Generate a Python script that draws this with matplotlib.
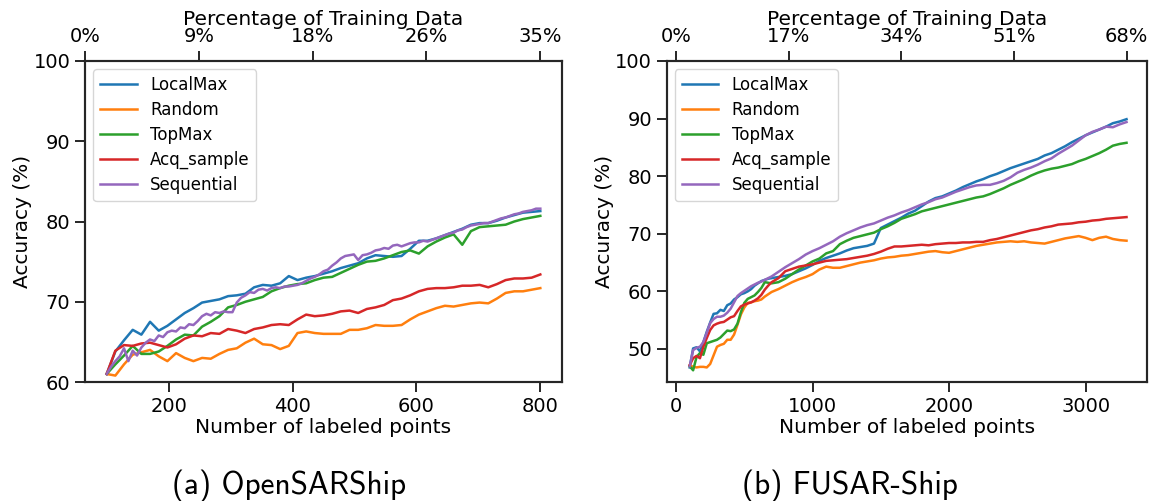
import numpy as np
import matplotlib
matplotlib.use("Agg")
import matplotlib.pyplot as plt

# ---------------- OpenSARShip ----------------
sar_x = np.arange(100, 801, 14)
sar_localmax = [61.0, 63.8, 65.2, 66.5, 65.9, 67.5, 66.4, 67.0, 67.8, 68.6,
                69.2, 69.9, 70.1, 70.3, 70.7, 70.8, 71.0, 71.8, 72.1, 72.0,
                72.3, 73.2, 72.7, 73.0, 73.2, 73.5, 73.8, 74.2, 74.5, 74.8,
                75.4, 75.8, 75.7, 75.6, 75.7, 76.6, 77.6, 77.6, 77.9, 78.3,
                78.7, 79.1, 79.6, 79.8, 79.8, 80.1, 80.5, 80.8, 81.1, 81.2,
                81.3]
sar_random = [61.0, 60.8, 62.2, 63.4, 63.7, 64.0, 63.2, 62.6, 63.6, 63.0,
              62.6, 63.0, 62.9, 63.5, 64.0, 64.2, 64.9, 65.4, 64.7, 64.6,
              64.1, 64.5, 66.1, 66.3, 66.1, 66.0, 66.0, 66.0, 66.5, 66.5,
              66.7, 67.1, 67.0, 67.0, 67.1, 67.8, 68.4, 68.8, 69.2, 69.5,
              69.4, 69.6, 69.8, 69.9, 69.8, 70.4, 71.1, 71.3, 71.3, 71.5,
              71.7]
sar_topmax = [61.0, 62.2, 63.3, 64.5, 63.5, 63.5, 63.8, 64.5, 65.3, 65.9,
              65.8, 66.9, 67.5, 68.2, 69.3, 69.6, 70.0, 70.3, 70.6, 71.3,
              71.7, 72.0, 72.2, 72.3, 72.7, 73.0, 73.1, 73.6, 74.1, 74.6,
              75.0, 75.1, 75.4, 75.8, 76.2, 76.4, 76.0, 76.9, 77.5, 78.0,
              78.4, 77.1, 78.8, 79.3, 79.4, 79.5, 79.6, 80.0, 80.3, 80.5,
              80.7]
sar_acq = [61.0, 63.9, 64.6, 64.5, 64.8, 64.9, 64.6, 64.3, 64.7, 65.4,
           65.8, 65.7, 66.1, 66.0, 66.6, 66.4, 66.1, 66.6, 66.8, 67.1,
           67.2, 67.1, 67.8, 68.4, 68.2, 68.3, 68.5, 68.8, 68.9, 68.6,
           69.1, 69.3, 69.6, 70.2, 70.4, 70.8, 71.3, 71.6, 71.7, 71.7,
           71.8, 72.0, 72.0, 72.1, 71.8, 72.2, 72.7, 72.9, 72.9, 73.0,
           73.4]
sar_seq_x = np.arange(100, 801, 7)
sar_sequential = [61.0, 61.9, 62.6, 63.2, 64.2, 62.6, 63.9, 63.3, 64.3, 64.9,
                  65.3, 65.1, 65.8, 65.6, 66.2, 66.4, 66.3, 66.8, 66.7, 67.2,
                  67.1, 67.6, 68.2, 68.5, 68.3, 68.7, 68.6, 68.8, 68.7, 68.7,
                  69.9, 70.5, 70.8, 71.2, 71.1, 71.5, 71.6, 71.4, 71.7, 71.8,
                  71.7, 71.9, 71.9, 72.0, 72.1, 72.3, 72.6, 72.9, 73.1, 73.4,
                  73.8, 74.0, 74.5, 74.9, 75.4, 75.7, 75.8, 75.9, 75.2, 75.8,
                  75.9, 76.1, 76.4, 76.5, 76.7, 76.6, 77.0, 77.1, 76.9, 77.1,
                  77.3, 77.4, 77.4, 77.6, 77.5, 77.7, 77.9, 78.1, 78.3, 78.5,
                  78.6, 78.9, 79.0, 79.3, 79.5, 79.6, 79.7, 79.8, 79.8, 80.0,
                  80.2, 80.4, 80.5, 80.7, 80.9, 81.0, 81.2, 81.3, 81.4, 81.6,
                  81.6]

# ---------------- FUSAR-Ship ----------------
# 25-point spacing up to 675, then every 50 up to 3300
fus_x = np.r_[np.arange(100, 700, 25), np.arange(700, 3301, 50)]
fus_localmax = [46.8, 50.1, 50.3, 49.6, 51.2, 53.0, 54.6, 56.1, 56.2, 56.8,
                56.6, 57.6, 57.9, 58.6, 59.0, 59.5, 59.7, 60.0, 60.4, 61.0,
                61.4, 61.8, 62.0, 62.2,
                62.3, 62.5, 62.7, 63.0, 63.5, 64.0, 64.6, 65.3, 65.8, 66.2,
                66.6, 67.1, 67.5, 67.7, 67.9, 68.3, 71.0, 71.6, 72.2, 72.8,
                73.5, 74.0, 74.8, 75.6, 76.2, 76.5, 77.0, 77.5, 78.1, 78.6,
                79.1, 79.5, 80.0, 80.4, 80.9, 81.4, 81.8, 82.2, 82.6, 83.0,
                83.6, 84.0, 84.6, 85.2, 85.9, 86.5, 87.1, 87.6, 88.1, 88.6,
                89.2, 89.5, 89.9]
fus_random = [47.2, 46.9, 46.8, 46.9, 46.9, 46.8, 47.4, 48.9, 50.4, 50.7,
              50.9, 51.6, 51.6, 52.5, 54.2, 56.0, 57.2, 58.0, 58.1, 58.3,
              58.4, 58.6, 59.1, 59.5,
              59.9, 60.4, 61.0, 61.6, 62.1, 62.5, 63.0, 63.8, 64.3, 64.1,
              64.1, 64.4, 64.7, 65.0, 65.2, 65.4, 65.7, 65.9, 66.0, 66.2,
              66.3, 66.5, 66.7, 66.9, 67.0, 66.8, 66.7, 67.0, 67.3, 67.6,
              67.9, 68.1, 68.3, 68.5, 68.6, 68.7, 68.6, 68.7, 68.5, 68.4,
              68.3, 68.6, 68.9, 69.2, 69.4, 69.6, 69.3, 68.9, 69.3, 69.5,
              69.1, 68.9, 68.8]
fus_topmax = [47.0, 46.3, 48.6, 49.3, 49.0, 51.0, 51.2, 51.4, 51.6, 52.0,
              52.6, 53.2, 53.1, 53.4, 54.4, 56.4, 58.0, 58.7, 59.0, 59.3,
              59.9, 60.6, 61.6, 61.5,
              61.4, 61.6, 62.2, 63.0, 63.8, 64.5, 65.2, 65.7, 66.6, 67.0,
              68.2, 68.8, 69.3, 69.6, 69.9, 70.2, 70.8, 71.3, 71.9, 72.6,
              73.0, 73.4, 73.9, 74.2, 74.5, 74.8, 75.1, 75.4, 75.7, 76.0,
              76.3, 76.5, 76.9, 77.4, 77.9, 78.5, 79.0, 79.5, 80.1, 80.6,
              81.0, 81.3, 81.5, 81.8, 82.1, 82.6, 83.0, 83.5, 84.0, 84.6,
              85.3, 85.6, 85.8]
fus_acq = [47.2, 48.4, 48.8, 48.4, 50.4, 51.9, 53.3, 54.1, 54.4, 54.6,
           54.7, 55.1, 55.5, 55.7, 56.6, 57.4, 57.7, 57.9, 58.1, 58.4,
           58.8, 59.4, 60.3, 61.0,
           61.6, 62.3, 63.5, 63.9, 64.3, 64.5, 64.7, 65.0, 65.3, 65.4,
           65.5, 65.6, 65.8, 66.0, 66.2, 66.5, 66.9, 67.4, 67.8, 67.8,
           67.9, 68.0, 68.1, 68.0, 68.2, 68.3, 68.4, 68.4, 68.5, 68.5,
           68.6, 68.6, 68.9, 69.1, 69.4, 69.7, 70.0, 70.3, 70.6, 70.8,
           71.1, 71.3, 71.6, 71.7, 71.8, 72.0, 72.1, 72.3, 72.4, 72.6,
           72.7, 72.8, 72.9]
fus_sequential = [47.0, 49.8, 50.2, 50.4, 51.2, 52.8, 54.5, 55.2, 55.6, 55.6,
                  55.8, 56.3, 57.0, 58.1, 59.2, 59.7, 60.1, 60.5, 60.9, 61.2,
                  61.5, 61.7, 62.0, 62.3,
                  62.6, 63.4, 64.2, 64.9, 65.6, 66.4, 67.0, 67.5, 68.1, 68.7,
                  69.5, 70.1, 70.6, 71.1, 71.5, 71.8, 72.3, 72.8, 73.2, 73.7,
                  74.1, 74.6, 75.1, 75.5, 76.0, 76.3, 76.8, 77.3, 77.7, 78.1,
                  78.4, 78.5, 78.5, 78.8, 79.2, 79.8, 80.6, 81.1, 81.5, 82.0,
                  82.6, 83.1, 83.9, 84.6, 85.3, 86.2, 87.1, 87.7, 88.1, 88.6,
                  88.5, 89.0, 89.4]

method_names = ["LocalMax", "Random", "TopMax", "Acq_sample", "Sequential"]
colors = ["#1f77b4", "#ff7f0e", "#2ca02c", "#d62728", "#9467bd"]

sar_pct_labels = ["0%", "9%", "18%", "26%", "35%"]
fus_pct_labels = ["0%", "17%", "34%", "51%", "68%"]

dark = "0.15"
plt.rcParams.update({
    "font.family": "DejaVu Sans",
    "axes.edgecolor": dark,
    "axes.linewidth": 1.5,
    "xtick.color": dark,
    "ytick.color": dark,
    "xtick.labelcolor": "black",
    "ytick.labelcolor": "black",
    "xtick.major.size": 7,
    "ytick.major.size": 7,
    "xtick.major.width": 1.4,
    "ytick.major.width": 1.4,
    "xtick.labelsize": 14,
    "ytick.labelsize": 14,
})

fig = plt.figure(figsize=(11.49, 5.01), dpi=100)
W, H = 1149, 501


def make_axes(x0, x1, y0, y1):
    return fig.add_axes([x0 / W, 1 - y1 / H, (x1 - x0) / W, (y1 - y0) / H])


def draw_panel(ax, series, xlim, ylim, yticks, pct_pos, pct_labels):
    for (xs, ys), name, c in zip(series, method_names, colors):
        ax.plot(xs, ys, color=c, lw=1.8, label=name)
    ax.set_xlim(*xlim)
    ax.set_ylim(*ylim)
    ax.set_yticks(yticks)
    ax.set_xlabel("Number of labeled points", fontsize=14.5, labelpad=2)
    ax.set_ylabel("Accuracy (%)", fontsize=14.5, labelpad=1)
    ax.legend(loc="upper left", fontsize=12, labelspacing=0.42,
              handlelength=2.2, borderaxespad=0.5)

    top = ax.twiny()
    top.set_xlim(ax.get_xlim())
    top.set_xticks(pct_pos)
    top.set_xticklabels(pct_labels)
    top.set_xlabel("Percentage of Training Data", fontsize=14.5, labelpad=2)


ax1 = make_axes(85, 562, 61, 382)
draw_panel(ax1,
           [(sar_x, sar_localmax), (sar_x, sar_random), (sar_x, sar_topmax),
            (sar_x, sar_acq), (sar_seq_x, sar_sequential)],
           (65, 835), (60, 100), [60, 70, 80, 90, 100],
           np.linspace(65, 800, 5), sar_pct_labels)
ax1.set_xticks([200, 400, 600, 800])

ax2 = make_axes(666.5, 1147, 61, 382)
draw_panel(ax2,
           [(fus_x, fus_localmax), (fus_x, fus_random), (fus_x, fus_topmax),
            (fus_x, fus_acq), (fus_x, fus_sequential)],
           (-70, 3450), (44.27, 100), [50, 60, 70, 80, 90, 100],
           np.linspace(0, 3300, 5), fus_pct_labels)
ax2.set_xticks([0, 1000, 2000, 3000])

fig.text(289 / W, 1 - 486 / H, "(a) OpenSARShip", family="cmss10",
         fontsize=22.5, ha="center", va="center")
fig.text(850 / W, 1 - 486 / H, "(b) FUSAR-Ship", family="cmss10",
         fontsize=22.5, ha="center", va="center")

fig.savefig("out.png", dpi=100)
